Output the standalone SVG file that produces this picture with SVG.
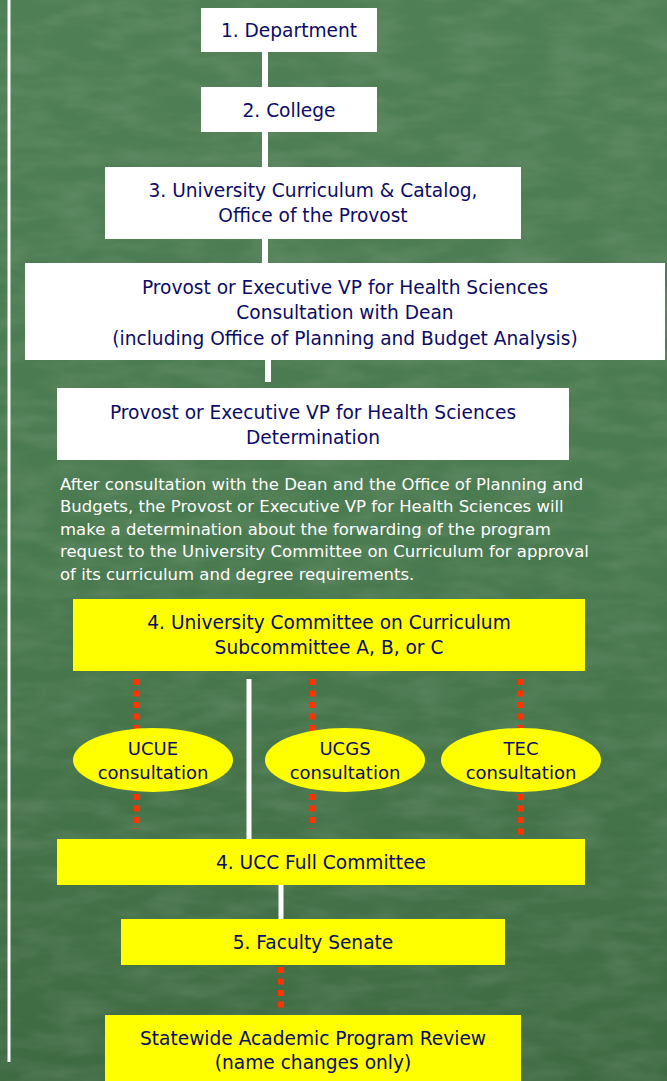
<svg xmlns="http://www.w3.org/2000/svg" width="667" height="1081" viewBox="0 0 667 1081">
<defs>
<linearGradient id="bg" x1="0" y1="0" x2="0" y2="1">
<stop offset="0" stop-color="#4f7f54"/>
<stop offset="0.5" stop-color="#4a7a4f"/>
<stop offset="1" stop-color="#3f6b43"/>
</linearGradient>
<filter id="tex" x="0" y="0" width="100%" height="100%">
<feTurbulence type="fractalNoise" baseFrequency="0.02 0.06" numOctaves="3" seed="4" result="n"/>
<feColorMatrix in="n" type="matrix" values="0 0 0 0 1  0 0 0 0 1  0 0 0 0 1  0 0 0 0.35 -0.12"/>
</filter>
<style>
.wbox{fill:#ffffff}
.ybox{fill:#ffff00}
.t{font-family:"DejaVu Sans",Verdana,sans-serif;font-size:18.6px;fill:#0c0c66;text-anchor:middle}
.e{font-size:18px}
.p{font-family:"DejaVu Sans",Verdana,sans-serif;font-size:16.5px;fill:#ffffff}
.solid{stroke:#ffffff;stroke-width:6;fill:none}
.dot{stroke:#ff3300;stroke-width:6;stroke-dasharray:6 5.5;fill:none}
</style>
</defs>
<rect width="667" height="1081" fill="url(#bg)"/>
<rect width="667" height="1081" filter="url(#tex)" opacity="0.5"/>
<line x1="9" y1="0" x2="9" y2="1062" stroke="#ffffff" stroke-width="3"/>
<g id="connectors">
<line class="solid" x1="265" y1="52" x2="265" y2="87"/>
<line class="solid" x1="265" y1="132" x2="265" y2="168"/>
<line class="solid" x1="265" y1="239" x2="265" y2="263"/>
<line class="solid" x1="268" y1="360" x2="268" y2="382"/>
<line class="solid" x1="249" y1="679" x2="249" y2="839" style="stroke-width:5"/>
<line class="dot" x1="137" y1="679" x2="137" y2="829"/>
<line class="dot" x1="313" y1="679" x2="313" y2="829"/>
<line class="dot" x1="521" y1="679" x2="521" y2="839"/>
<line class="solid" x1="281" y1="885" x2="281" y2="919" style="stroke-width:5"/>
<line class="dot" x1="281" y1="967" x2="281" y2="1010"/>
</g>
<g id="n1"><rect class="wbox" x="201" y="8" width="176" height="44"/><text class="t" x="289" y="37">1. Department</text></g>
<g id="n2"><rect class="wbox" x="201" y="87" width="176" height="45"/><text class="t" x="289" y="117">2. College</text></g>
<g id="n3"><rect class="wbox" x="105" y="167" width="416" height="72"/><text class="t" x="313" y="197">3. University Curriculum &amp; Catalog,</text><text class="t" x="313" y="222">Office of the Provost</text></g>
<g id="n4"><rect class="wbox" x="25" y="263" width="640" height="97"/><text class="t" x="345" y="294">Provost or Executive VP for Health Sciences</text><text class="t" x="345" y="319">Consultation with Dean</text><text class="t" x="345" y="345">(including Office of Planning and Budget Analysis)</text></g>
<g id="n5"><rect class="wbox" x="57" y="388" width="512" height="72"/><text class="t" x="313" y="419">Provost or Executive VP for Health Sciences</text><text class="t" x="313" y="444">Determination</text></g>
<g id="note"><text class="p" x="60" y="490">After consultation with the Dean and the Office of Planning and</text><text class="p" x="60" y="512">Budgets, the Provost or Executive VP for Health Sciences will</text><text class="p" x="60" y="535">make a determination about the forwarding of the program</text><text class="p" x="60" y="557">request to the University Committee on Curriculum for approval</text><text class="p" x="60" y="580">of its curriculum and degree requirements.</text></g>
<g id="n6"><rect class="ybox" x="73" y="599" width="512" height="72"/><text class="t" x="329" y="629">4. University Committee on Curriculum</text><text class="t" x="329" y="654">Subcommittee A, B, or C</text></g>
<g id="e1"><ellipse class="ybox" cx="153" cy="760" rx="80" ry="32"/><text class="t e" x="153" y="755">UCUE</text><text class="t e" x="153" y="779">consultation</text></g>
<g id="e2"><ellipse class="ybox" cx="345" cy="760" rx="80" ry="32"/><text class="t e" x="345" y="755">UCGS</text><text class="t e" x="345" y="779">consultation</text></g>
<g id="e3"><ellipse class="ybox" cx="521" cy="760" rx="80" ry="32"/><text class="t e" x="521" y="755">TEC</text><text class="t e" x="521" y="779">consultation</text></g>
<g id="n7"><rect class="ybox" x="57" y="839" width="528" height="46"/><text class="t" x="321" y="869">4. UCC Full Committee</text></g>
<g id="n8"><rect class="ybox" x="121" y="919" width="384" height="46"/><text class="t" x="313" y="949">5. Faculty Senate</text></g>
<g id="n9"><rect class="ybox" x="105" y="1015" width="416" height="70"/><text class="t" x="313" y="1045">Statewide Academic Program Review</text><text class="t" x="313" y="1069">(name changes only)</text></g>
</svg>
